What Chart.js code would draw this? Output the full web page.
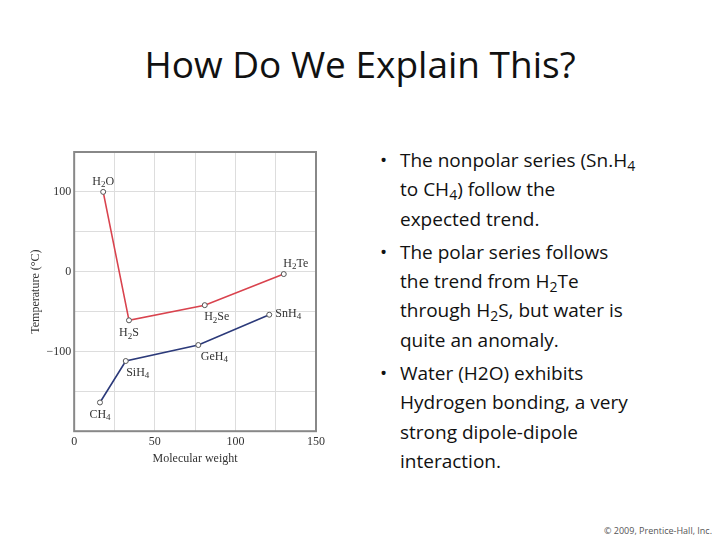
<!DOCTYPE html>
<html><head><meta charset="utf-8">
<script src="https://cdn.jsdelivr.net/npm/chart.js@4"></script>
<style>
body{margin:0;width:720px;height:540px;background:#fff;position:relative;overflow:hidden;font-family:"Open Sans",sans-serif}
#title{position:absolute;top:38px;left:0;width:720px;text-align:center;font-size:37px;color:#111;font-family:"Open Sans",sans-serif}
#c{position:absolute;left:25px;top:140px}
ul{position:absolute;left:380px;top:146px;width:300px;margin:0;padding:0;list-style:none;font-size:19px;line-height:29.3px;color:#111}
li{padding-left:20px;text-indent:-20px;margin-bottom:4px}
li:before{content:"•";display:inline-block;width:20px;text-indent:0;}
sub{font-size:14px;line-height:0;vertical-align:-4px}
#copy{position:absolute;left:604px;top:524px;font-size:9px;color:#555}
</style></head><body>
<div id="title">How Do We Explain This?</div>
<canvas id="c" width="303" height="330"></canvas>
<ul>
<li>The nonpolar series (Sn.H<sub>4</sub><br>to CH<sub>4</sub>) follow the<br>expected trend.</li>
<li>The polar series follows<br>the trend from H<sub>2</sub>Te<br>through H<sub>2</sub>S, but water is<br>quite an anomaly.</li>
<li>Water (H2O) exhibits<br>Hydrogen bonding, a very<br>strong dipole-dipole<br>interaction.</li>
</ul>
<div id="copy">© 2009, Prentice-Hall, Inc.</div>
<script>
const polarX=[18,34,81,130];
const polarY=[100,-61,-42,-3];
const polarNames=[["H","2","O"],["H","2","S"],["H","2","Se"],["H","2","Te"]];
const polarPos=[[0,-10],[0,13],[12,12],[12,-10]];
const nonpolarX=[16,32,77,121];
const nonpolarY=[-164,-112,-92,-54];
const nonpolarNames=[["CH","4",""],["SiH","4",""],["GeH","4",""],["SnH","4",""]];
const nonpolarPos=[[0,12],[12,12],[16,12],[19,-1]];
const labelPlugin={id:'lbl',afterDatasetsDraw(ch){
  const c=ch.ctx;c.save();c.fillStyle='#333';c.textBaseline='middle';
  ch.data.datasets.forEach((ds,i)=>{
    const meta=ch.getDatasetMeta(i);
    meta.data.forEach((p,j)=>{
      const [a,s,b]=ds.names[j];const [dx,dy]=ds.pos[j];
      c.font='12px "Liberation Serif"';const wa=c.measureText(a).width,wb=c.measureText(b).width;
      c.font='9px "Liberation Serif"';const ws=c.measureText(s).width;
      let x=p.x+dx-(wa+ws+wb)/2,y=p.y+dy;
      c.font='12px "Liberation Serif"';c.fillText(a,x,y);x+=wa;
      c.font='9px "Liberation Serif"';c.fillText(s,x,y+3);x+=ws;
      c.font='12px "Liberation Serif"';c.fillText(b,x,y);
    });
  });
  const a=ch.chartArea;c.strokeStyle='#888';c.lineWidth=2;c.strokeRect(a.left,a.top,a.right-a.left,a.bottom-a.top);
  c.restore();}};
const mk=(xs,ys)=>xs.map((x,i)=>({x,y:ys[i]}));
new Chart(document.getElementById('c'),{type:'scatter',
 data:{datasets:[
  {data:mk(polarX,polarY),names:polarNames,pos:polarPos,showLine:true,borderColor:'#d9434e',borderWidth:1.6,pointRadius:2.5,pointBackgroundColor:'#fff',pointBorderColor:'#555',pointBorderWidth:1},
  {data:mk(nonpolarX,nonpolarY),names:nonpolarNames,pos:nonpolarPos,showLine:true,borderColor:'#2c3a7a',borderWidth:1.6,pointRadius:2.5,pointBackgroundColor:'#fff',pointBorderColor:'#555',pointBorderWidth:1}]},
 options:{responsive:false,animation:false,devicePixelRatio:1,
  layout:{padding:{top:12,right:10}},
  plugins:{legend:{display:false},tooltip:{enabled:false}},
  scales:{
   x:{min:0,max:150,ticks:{stepSize:25,color:'#333',font:{family:'Liberation Serif',size:12},callback:v=>v%50===0?v:''},
      grid:{color:'#ddd',drawTicks:false},border:{display:false},
      title:{display:true,text:'Molecular weight',color:'#333',font:{family:'Liberation Serif',size:12},padding:{top:0}}},
   y:{min:-200,max:150,ticks:{stepSize:50,color:'#333',font:{family:'Liberation Serif',size:12},callback:v=>(v%100===0&&v>-200)?(v<0?'−'+(-v):v):''},
      grid:{color:'#ddd',drawTicks:false},border:{display:false},
      title:{display:true,text:'Temperature (°C)',color:'#333',font:{family:'Liberation Serif',size:12},padding:{bottom:0}}}
  }}
 ,plugins:[labelPlugin]});
</script>
</body></html>
